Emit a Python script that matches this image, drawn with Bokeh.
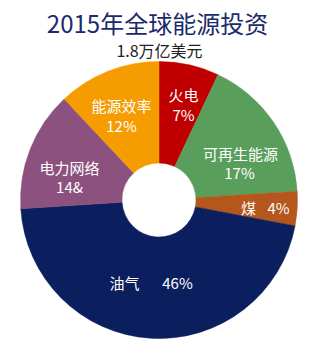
import numpy as np
from bokeh.plotting import figure
from bokeh.models import Range1d
from bokeh.core.properties import value
from bokeh.embed import file_html
from bokeh.resources import INLINE

# ---- data ----
categories = ["火电", "可再生能源", "煤", "油气", "电力网络", "能源效率"]
shares = [7, 17, 4, 46, 14, 12]
share_labels = ["7%", "17%", "4%", "46%", "14&", "12%"]
colors = ["#c00000", "#5a9e5c", "#b5561c", "#0b1f5e", "#8c517f", "#f59c00"]
title_text = "2015年全球能源投资"
subtitle_text = "1.8万亿美元"

# ---- layout ----
W, H = 312, 349
FONT = "Noto Sans CJK SC"
cx, cy = 158.5, H - 199.5
r_in, r_out = 37, 138.5

p = figure(width=W, height=H, x_range=Range1d(0, W), y_range=Range1d(0, H),
           output_backend="svg", toolbar_location=None, min_border=0)
p.axis.visible = False
p.grid.visible = False
p.outline_line_color = None
p.background_fill_color = "white"
p.border_fill_color = "white"

frac = np.array(shares, dtype=float) / sum(shares)
ends = np.pi / 2 - 2 * np.pi * np.cumsum(frac)
starts = np.concatenate([[np.pi / 2], ends[:-1]])
p.annular_wedge(x=cx, y=cy, inner_radius=r_in, outer_radius=r_out,
                start_angle=ends, end_angle=starts,
                fill_color=colors, line_color=colors, line_width=0.5)

# label placement (pixel coords from top): (name_x, name_y, pct_x, pct_y)
place = {
    "火电": (183, 94, 183, 114),
    "可再生能源": (240, 153, 239, 172),
    "煤": (248, 207, 278, 207),
    "油气": (124, 282, 177, 282),
    "电力网络": (69, 167, 69, 186),
    "能源效率": (121, 105, 121, 125),
}
nx, ny, px, py = [], [], [], []
for c in categories:
    a, b, d, e = place[c]
    nx.append(a); ny.append(H - b); px.append(d); py.append(H - e)

p.text(x=nx, y=ny, text=categories, text_font=value(FONT), text_font_size="15px",
       text_color="white", text_align="center", text_baseline="middle")
p.text(x=px, y=py, text=share_labels, text_font=value(FONT), text_font_size="15px",
       text_color="white", text_align="center", text_baseline="middle")

p.text(x=[157], y=[H - 22], text=[title_text], text_font=value(FONT),
       text_font_size="24px", text_color="#1b2a6b", text_align="center",
       text_baseline="middle")
p.text(x=[159], y=[H - 49], text=[subtitle_text], text_font=value(FONT),
       text_font_size="16px", text_color="#222222", text_align="center",
       text_baseline="middle")

open("out.html", "w").write(file_html(p, INLINE))
